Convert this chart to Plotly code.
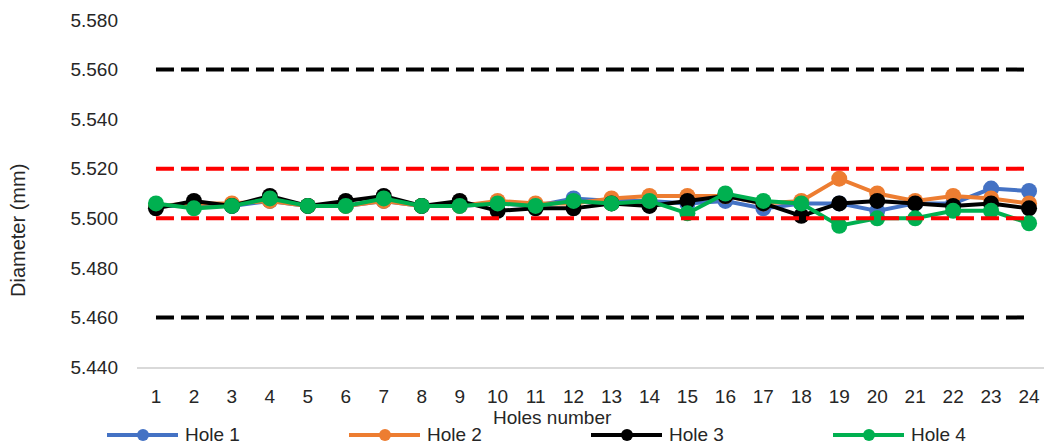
import plotly.graph_objects as go

# Measured hole diameters (mm) for 24 parts, four holes per part
holes = list(range(1, 25))
hole1 = [5.505, 5.505, 5.505, 5.507, 5.505, 5.505, 5.507, 5.505, 5.505, 5.506, 5.505, 5.508,
         5.507, 5.507, 5.506, 5.507, 5.504, 5.506, 5.506, 5.503, 5.506, 5.506, 5.512, 5.511]
hole2 = [5.505, 5.506, 5.506, 5.507, 5.505, 5.505, 5.507, 5.505, 5.505, 5.507, 5.506, 5.506,
         5.508, 5.509, 5.509, 5.509, 5.506, 5.507, 5.516, 5.510, 5.507, 5.509, 5.508, 5.506]
hole3 = [5.504, 5.507, 5.505, 5.509, 5.505, 5.507, 5.509, 5.505, 5.507, 5.503, 5.504, 5.504,
         5.506, 5.505, 5.507, 5.509, 5.506, 5.501, 5.506, 5.507, 5.506, 5.505, 5.506, 5.504]
hole4 = [5.506, 5.504, 5.505, 5.508, 5.505, 5.505, 5.508, 5.505, 5.505, 5.506, 5.505, 5.507,
         5.506, 5.507, 5.502, 5.510, 5.507, 5.506, 5.497, 5.500, 5.500, 5.503, 5.503, 5.498]

# Control limits (black) and tolerance band (red)
control_limits = [5.560, 5.460]
tolerance_limits = [5.520, 5.500]

series_names = ["Hole 1", "Hole 2", "Hole 3", "Hole 4"]
series_values = [hole1, hole2, hole3, hole4]
series_colors = ["#4472C4", "#ED7D31", "#000000", "#00B050"]

y_ticks = [5.440, 5.460, 5.480, 5.500, 5.520, 5.540, 5.560, 5.580]

FONT = "Liberation Sans, Arial, sans-serif"
TEXT = "#262626"
W, H = 1044, 448
L, R, T, B = 137, 0, 20, 81
plot_w = W - L - R
plot_h = H - T - B


def px_x(p):
    return (p - L) / plot_w


def px_y(p):
    return (H - B - p) / plot_h


fig = go.Figure()

for name, vals, col in zip(series_names, series_values, series_colors):
    fig.add_trace(go.Scatter(
        x=holes, y=vals, name=name, mode="lines+markers",
        line=dict(color=col, width=4),
        marker=dict(color=col, size=16),
        showlegend=False,
    ))

for val in control_limits:
    fig.add_trace(go.Scatter(
        x=holes, y=[val] * len(holes), mode="lines",
        line=dict(color="#000000", width=4, dash="18px,7px"),
        showlegend=False, hoverinfo="skip",
    ))
for val in tolerance_limits:
    fig.add_trace(go.Scatter(
        x=holes, y=[val] * len(holes), mode="lines",
        line=dict(color="#FF0000", width=4, dash="18px,7px"),
        showlegend=False, hoverinfo="skip",
    ))

# Custom legend row under the axis title
shapes = []
annotations = []
legend_y = px_y(435)
for i, (name, col) in enumerate(zip(series_names, series_colors)):
    x0 = 107 + i * 242
    shapes.append(dict(type="line", xref="paper", yref="paper",
                       x0=px_x(x0), x1=px_x(x0 + 71), y0=legend_y, y1=legend_y,
                       line=dict(color=col, width=4)))
    shapes.append(dict(type="circle", xref="paper", yref="paper",
                       x0=px_x(x0 + 30), x1=px_x(x0 + 42),
                       y0=px_y(441), y1=px_y(429),
                       fillcolor=col, line=dict(color=col, width=0)))
    annotations.append(dict(text=name, xref="paper", yref="paper",
                            x=px_x(x0 + 76), y=legend_y, xanchor="left", yanchor="middle",
                            showarrow=False, font=dict(family=FONT, size=19, color=TEXT)))

annotations.append(dict(text="Holes number", xref="paper", yref="paper",
                        x=px_x(552), y=px_y(417), xanchor="center", yanchor="middle",
                        showarrow=False, font=dict(family=FONT, size=19, color=TEXT)))
annotations.append(dict(text="Diameter (mm)", xref="paper", yref="paper",
                        x=px_x(18), y=px_y(231), xanchor="center", yanchor="middle",
                        textangle=-90, showarrow=False,
                        font=dict(family=FONT, size=20, color=TEXT)))

fig.update_layout(
    width=W, height=H,
    margin=dict(l=L, r=R, t=T, b=B, pad=0),
    paper_bgcolor="white", plot_bgcolor="white",
    font=dict(family=FONT, size=19, color=TEXT),
    shapes=shapes, annotations=annotations,
    showlegend=False,
)
fig.update_xaxes(
    range=[0.5, 0.5 + plot_w / 37.96],
    tickvals=holes, ticktext=[str(h) for h in holes],
    showgrid=False, zeroline=False,
    showline=True, linecolor="#D9D9D9", linewidth=1.5,
    ticks="", ticklabelstandoff=11,
    tickfont=dict(family=FONT, size=19, color=TEXT),
)
fig.update_yaxes(
    range=[5.440, 5.580],
    tickvals=y_ticks, ticktext=[f"{v:.3f}" for v in y_ticks],
    showgrid=False, zeroline=False, showline=False,
    ticks="", ticklabelstandoff=18,
    tickfont=dict(family=FONT, size=19, color=TEXT),
)

fig.write_html("out.html")
